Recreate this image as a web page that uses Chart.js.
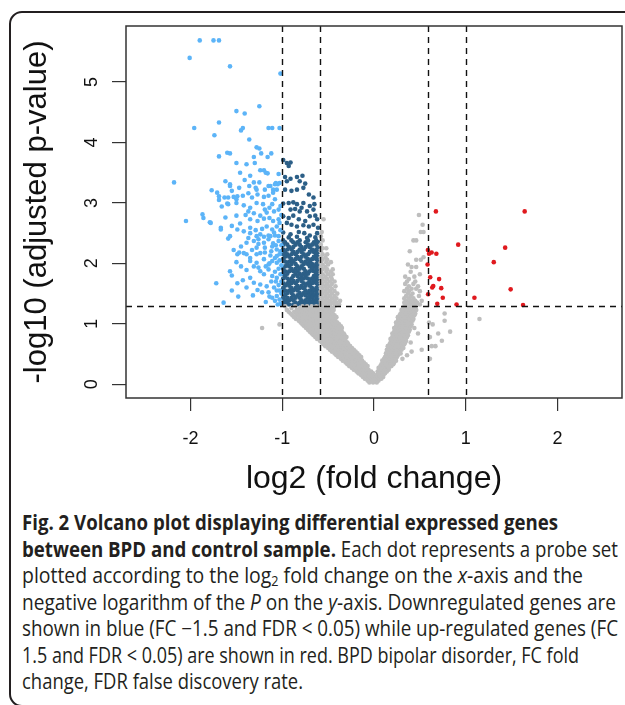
<!DOCTYPE html>
<html>
<head>
<meta charset="utf-8">
<script src="https://cdn.jsdelivr.net/npm/chart.js@4.4.0/dist/chart.umd.min.js"></script>
<style>
  html, body { margin: 0; padding: 0; background: #fff; }
  body { width: 625px; height: 705px; overflow: hidden; position: relative; }
  #frame { position: absolute; left: 9px; top: 11px; width: 660px; height: 696px; box-sizing: border-box;
           border: 2px solid #231f20; border-radius: 13px; }
  #plot { position: absolute; left: 0; top: 0; }
  #caption { position: absolute; left: 22px; top: 509px; font-family: "Open Sans", sans-serif; font-size: 21px;
             line-height: 26.5px; color: #231f20; white-space: nowrap; }
  #caption .ln { display: block; width: max-content; transform-origin: 0 0; }
  #caption b { font-weight: 700; }
  #caption sub { font-size: 0.65em; vertical-align: -0.25em; line-height: 0; }
</style>
</head>
<body>
<div id="frame"></div>
<canvas id="plot" width="625" height="500"></canvas>
<div id="caption">
  <span class="ln" data-w="536"><b>Fig. 2 Volcano plot displaying differential expressed genes</b></span>
  <span class="ln" data-w="596"><b>between BPD and control sample.</b> Each dot represents a probe set</span>
  <span class="ln" data-w="561">plotted according to the log<sub>2</sub> fold change on the <i>x</i>-axis and the</span>
  <span class="ln" data-w="594">negative logarithm of the <i>P</i> on the <i>y</i>-axis. Downregulated genes are</span>
  <span class="ln" data-w="596">shown in blue (FC −1.5 and FDR &lt; 0.05) while up-regulated genes (FC</span>
  <span class="ln" data-w="557">1.5 and FDR &lt; 0.05) are shown in red. BPD bipolar disorder, FC fold</span>
  <span class="ln" data-w="281">change, FDR false discovery rate.</span>
</div>
<script>
/** Data **/

// axis ticks and the cut-offs drawn as dashed lines
const xTicks = [-2, -1, 0, 1, 2];
const yTicks = [0, 1, 2, 3, 4, 5];
const fcCutoffs = [-1, -0.585, 0.585, 1];
const pCutoff = 1.301;

// not significant probe sets, the "V": [y, [x, x, ...]] rows
const grayRows = [
  [0.03, [-0.05, -0.01, 0.03]],
  [0.06, [-0.07, -0.03, 0.01, 0.05]],
  [0.09, [-0.10, -0.06, -0.02, 0.02, 0.06, 0.08]],
  [0.12, [-0.12, -0.08, -0.04, 0.00, 0.04, 0.08, 0.10]],
  [0.15, [-0.14, -0.10, -0.06, -0.02, 0.03, 0.06, 0.10]],
  [0.18, [-0.17, -0.13, -0.09, -0.05, -0.01, 0.05, 0.09, 0.12]],
  [0.21, [-0.19, -0.15, -0.11, -0.07, -0.03, 0.04, 0.07, 0.11, 0.14]],
  [0.24, [-0.22, -0.18, -0.14, -0.10, -0.06, 0.06, 0.09, 0.13, 0.16]],
  [0.27, [-0.24, -0.20, -0.16, -0.12, -0.08, 0.05, 0.08, 0.12, 0.16]],
  [0.30, [-0.27, -0.23, -0.19, -0.15, -0.11, -0.07, 0.07, 0.11, 0.15, 0.19]],
  [0.33, [-0.29, -0.25, -0.21, -0.17, -0.13, -0.09, 0.08, 0.13, 0.17, 0.21]],
  [0.36, [-0.31, -0.27, -0.23, -0.19, -0.15, -0.11, 0.10, 0.14, 0.18, 0.22]],
  [0.39, [-0.34, -0.30, -0.26, -0.22, -0.18, -0.13, 0.09, 0.12, 0.16, 0.20, 0.24]],
  [0.42, [-0.36, -0.32, -0.28, -0.24, -0.20, -0.16, 0.11, 0.15, 0.19, 0.23, 0.31, 0.61]],
  [0.45, [-0.39, -0.35, -0.30, -0.26, -0.22, -0.18, -0.14, 0.12, 0.16, 0.21, 0.25]],
  [0.48, [-0.41, -0.37, -0.33, -0.28, -0.24, -0.20, -0.16, 0.14, 0.18, 0.22, 0.26, 0.36]],
  [0.51, [-0.43, -0.39, -0.35, -0.31, -0.26, -0.22, -0.18, 0.13, 0.17, 0.21, 0.25, 0.29]],
  [0.54, [-0.46, -0.41, -0.37, -0.33, -0.28, -0.24, -0.20, 0.15, 0.19, 0.23, 0.27, 0.41]],
  [0.57, [-0.48, -0.44, -0.39, -0.35, -0.31, -0.26, -0.22, 0.14, 0.18, 0.22, 0.26, 0.30, 0.52]],
  [0.60, [-0.50, -0.46, -0.42, -0.37, -0.33, -0.28, -0.24, 0.16, 0.20, 0.24, 0.28, 0.32]],
  [0.63, [-0.53, -0.48, -0.44, -0.39, -0.35, -0.30, -0.26, 0.15, 0.19, 0.23, 0.27, 0.31, 0.63, 0.67]],
  [0.66, [-0.55, -0.50, -0.46, -0.41, -0.37, -0.32, -0.28, 0.17, 0.21, 0.25, 0.29, 0.33]],
  [0.69, [-0.57, -0.52, -0.48, -0.43, -0.39, -0.34, -0.29, 0.18, 0.22, 0.26, 0.30, 0.34, 0.40]],
  [0.72, [-0.59, -0.54, -0.50, -0.45, -0.40, -0.36, -0.31, 0.19, 0.23, 0.27, 0.31, 0.35, 0.74]],
  [0.75, [-0.62, -0.57, -0.52, -0.47, -0.42, -0.38, -0.33, 0.18, 0.22, 0.26, 0.30, 0.34]],
  [0.78, [-0.64, -0.59, -0.54, -0.49, -0.44, -0.39, -0.35, -0.30, 0.20, 0.24, 0.28, 0.32, 0.36, 0.61]],
  [0.81, [-0.66, -0.61, -0.56, -0.51, -0.46, -0.41, -0.36, -0.32, 0.21, 0.25, 0.29, 0.33, 0.37]],
  [0.84, [-0.68, -0.63, -0.58, -0.53, -0.48, -0.43, -0.38, -0.33, 0.20, 0.24, 0.28, 0.32, 0.36, 0.48, 0.70]],
  [0.87, [-0.70, -0.65, -0.60, -0.55, -0.50, -0.45, -0.40, -0.35, 0.22, 0.26, 0.30, 0.34, 0.38, 0.83]],
  [0.90, [-0.72, -0.67, -0.62, -0.57, -0.52, -0.47, -0.42, -0.37, 0.23, 0.27, 0.31, 0.35, 0.39]],
  [0.93, [-1.22, -0.74, -0.69, -0.64, -0.59, -0.54, -0.49, -0.44, -0.39, -0.35, 0.22, 0.26, 0.30, 0.34, 0.38, 0.44]],
  [0.96, [-0.76, -0.71, -0.66, -0.61, -0.56, -0.51, -0.46, -0.41, -0.36, 0.24, 0.28, 0.32, 0.36, 0.40]],
  [0.99, [-1.03, -0.78, -0.73, -0.68, -0.63, -0.58, -0.53, -0.48, -0.43, -0.38, 0.25, 0.29, 0.33, 0.37, 0.41, 0.64]],
  [1.02, [-0.80, -0.75, -0.70, -0.65, -0.60, -0.55, -0.50, -0.45, -0.40, 0.24, 0.28, 0.32, 0.36, 0.40, 0.60]],
  [1.05, [-0.82, -0.77, -0.72, -0.67, -0.62, -0.57, -0.52, -0.47, -0.42, 0.26, 0.30, 0.34, 0.38, 0.42, 0.77]],
  [1.08, [-0.85, -0.79, -0.74, -0.69, -0.64, -0.59, -0.54, -0.49, -0.44, 0.27, 0.31, 0.35, 0.39, 0.43, 1.15]],
  [1.11, [-0.87, -0.81, -0.76, -0.71, -0.66, -0.61, -0.56, -0.51, -0.46, -0.41, 0.26, 0.30, 0.34, 0.38, 0.42]],
  [1.14, [-0.89, -0.83, -0.78, -0.73, -0.68, -0.63, -0.58, -0.53, -0.48, -0.43, 0.28, 0.32, 0.36, 0.40, 0.44]],
  [1.17, [-0.91, -0.85, -0.80, -0.75, -0.70, -0.65, -0.60, -0.55, -0.50, -0.45, 0.29, 0.33, 0.37, 0.41, 0.45, 0.77]],
  [1.20, [-0.93, -0.87, -0.82, -0.77, -0.72, -0.67, -0.62, -0.57, -0.52, -0.47, 0.31, 0.35, 0.39, 0.43]],
  [1.23, [-0.95, -0.84, -0.79, -0.74, -0.69, -0.64, -0.59, -0.54, -0.49, -0.44, 0.30, 0.34, 0.38, 0.42, 0.46]],
  [1.26, [-0.90, -0.81, -0.76, -0.71, -0.66, -0.61, -0.56, -0.51, -0.46, 0.32, 0.36, 0.40, 0.44]],
  [1.29, [-0.97, -0.86, -0.78, -0.73, -0.68, -0.63, -0.58, -0.53, -0.48, -0.43, 0.33, 0.37, 0.41, 0.45]],
  [1.32, [-0.58, -0.53, -0.48, -0.43, -0.38, 0.35, 0.39, 0.44, 0.50]],
  [1.35, [-0.56, -0.51, -0.46, -0.41, 0.33, 0.37, 0.42, 0.47]],
  [1.38, [-0.58, -0.53, -0.48, -0.43, -0.37, 0.35, 0.40, 0.45, 0.52]],
  [1.42, [-0.56, -0.51, -0.46, -0.41, 0.33, 0.38, 0.43]],
  [1.46, [-0.58, -0.53, -0.48, -0.43, 0.35, 0.40, 0.49]],
  [1.50, [-0.56, -0.51, -0.46, -0.40, 0.37, 0.42]],
  [1.54, [-0.58, -0.53, -0.48, -0.43, 0.33, 0.38, 0.50]],
  [1.58, [-0.56, -0.51, -0.46, 0.36, 0.41, 0.46]],
  [1.62, [-0.58, -0.53, -0.48, -0.42, 0.38, 0.48]],
  [1.66, [-0.56, -0.51, -0.46, 0.34, 0.43]],
  [1.70, [-0.58, -0.53, -0.48, -0.43, 0.36, 0.45]],
  [1.74, [-0.56, -0.51, -0.46, 0.38]],
  [1.78, [-0.58, -0.53, -0.47, 0.34, 0.44]],
  [1.82, [-0.56, -0.50, -0.45, 0.50]],
  [1.86, [-0.58, -0.52, -0.47, 0.40]],
  [1.90, [-0.56, -0.51, -0.45]],
  [1.94, [-0.58, -0.53, 0.41, 0.46]],
  [1.98, [-0.56, -0.50, 0.37]],
  [2.02, [-0.58, -0.52, -0.47]],
  [2.06, [-0.56, -0.51, 0.46, 0.51]],
  [2.10, [-0.58, -0.53, 0.54]],
  [2.15, [-0.56, -0.51]],
  [2.20, [-0.58, 0.39]],
  [2.25, [-0.56, -0.52]],
  [2.31, [-0.58]],
  [2.38, [-0.56, 0.43, 0.46]],
  [2.45, [-0.58]],
  [2.52, [-0.57, 0.51, 0.54]],
  [2.64, [0.53]],
  [2.73, [-0.55]],
  [2.80, [0.49]]
];

// down-regulated, |log2 FC| > 1: [x, y]
const lightBluePts = [
  [-1.90, 5.69], [-1.75, 5.69], [-1.69, 5.69], [-2.01, 5.40], [-1.57, 5.26], [-1.02, 5.14],
  [-1.50, 4.52], [-1.41, 4.48], [-1.25, 4.60], [-1.96, 4.24], [-1.69, 4.33], [-1.74, 4.12],
  [-1.45, 4.20], [-1.43, 4.24], [-1.15, 4.24], [-1.11, 4.24], [-1.03, 4.24],
  [-1.28, 3.92], [-1.60, 3.83], [-1.57, 3.82], [-1.69, 3.77], [-1.23, 3.82], [-1.12, 3.82],
  [-1.31, 3.76], [-1.16, 3.76], [-1.50, 3.66], [-1.39, 3.64], [-1.30, 3.66],
  [-1.24, 3.54], [-1.20, 3.54], [-1.18, 3.50], [-1.16, 3.49], [-1.04, 3.48],
  [-2.18, 3.34], [-1.62, 3.36], [-1.57, 3.31], [-1.57, 3.28], [-1.41, 3.38], [-1.31, 3.34],
  [-1.25, 3.34], [-1.36, 3.28], [-1.29, 3.25], [-1.28, 3.22], [-1.19, 3.22], [-1.13, 3.28],
  [-1.10, 3.22], [-1.07, 3.33], [-1.05, 3.31], [-1.03, 3.33], [-1.15, 3.28], [-1.08, 3.31],
  [-1.77, 3.21], [-1.71, 3.17], [-1.69, 3.11], [-1.69, 3.05], [-1.59, 3.09], [-1.53, 3.10],
  [-1.50, 3.06], [-1.43, 3.12], [-1.63, 3.09], [-1.49, 3.11], [-1.37, 3.16], [-1.33, 3.09],
  [-1.27, 3.14], [-1.20, 3.10], [-1.15, 3.12], [-1.10, 3.17], [-1.06, 3.22], [-1.08, 3.06],
  [-1.60, 2.99], [-1.66, 2.94], [-1.59, 2.98], [-1.50, 3.00], [-1.42, 2.96], [-1.35, 2.92],
  [-1.37, 2.86], [-1.28, 3.00], [-1.21, 2.98], [-1.19, 2.89], [-1.14, 2.92], [-1.11, 2.98],
  [-1.09, 2.86], [-1.04, 2.89], [-1.31, 2.83], [-1.24, 2.79], [-1.17, 2.84], [-1.02, 2.95],
  [-1.87, 2.81], [-1.86, 2.75], [-2.05, 2.70], [-1.79, 2.68], [-1.78, 2.67], [-1.67, 2.59],
  [-1.57, 2.45], [-1.49, 2.56], [-1.50, 2.79], [-1.35, 2.73], [-1.27, 2.70], [-1.20, 2.74],
  [-1.14, 2.75], [-1.10, 2.70], [-1.04, 2.73], [-1.35, 2.59], [-1.29, 2.55], [-1.22, 2.57],
  [-1.17, 2.61], [-1.11, 2.56], [-1.06, 2.61], [-1.28, 2.45], [-1.20, 2.44], [-1.13, 2.45],
  [-1.08, 2.46], [-1.01, 2.80], [-1.03, 2.67], [-1.02, 2.55], [-1.55, 2.62], [-1.46, 2.66],
  [-1.40, 2.80], [-1.62, 2.76], [-1.55, 3.20], [-1.47, 3.25], [-1.35, 3.45], [-1.46, 3.50],
  [-1.25, 3.90], [-1.36, 4.05],
  [-1.67, 2.56], [-1.59, 2.41], [-1.42, 2.53], [-1.35, 2.50], [-1.24, 2.48], [-1.15, 2.46],
  [-1.09, 2.51], [-1.04, 2.45], [-1.37, 2.42], [-1.39, 2.34], [-1.31, 2.37], [-1.26, 2.40],
  [-1.20, 2.34], [-1.15, 2.40], [-1.10, 2.33], [-1.04, 2.37], [-1.28, 2.26], [-1.19, 2.26],
  [-1.11, 2.28], [-1.06, 2.23], [-1.01, 2.30], [-1.26, 2.32], [-1.33, 2.22], [-1.45, 2.28],
  [-1.53, 2.22], [-1.07, 2.30],
  [-1.47, 2.18], [-1.49, 2.15], [-1.42, 2.17], [-1.39, 2.15], [-1.35, 2.09], [-1.28, 2.15],
  [-1.24, 2.17], [-1.19, 2.18], [-1.13, 2.13], [-1.08, 2.09], [-1.03, 2.15], [-1.02, 2.20],
  [-1.12, 2.20], [-1.06, 2.12],
  [-1.50, 2.02], [-1.35, 2.04], [-1.28, 2.01], [-1.15, 1.98], [-1.11, 2.04], [-1.06, 2.01],
  [-1.20, 2.07], [-1.03, 2.05], [-1.01, 1.97], [-1.14, 2.00], [-1.18, 1.95], [-1.26, 1.93],
  [-1.31, 1.95], [-1.45, 1.95],
  [-1.57, 1.87], [-1.55, 1.80], [-1.39, 1.89], [-1.24, 1.87], [-1.20, 1.82], [-1.15, 1.90],
  [-1.08, 1.86], [-1.04, 1.91], [-1.11, 1.79], [-1.06, 1.76], [-1.02, 1.82], [-1.43, 1.72],
  [-1.72, 1.67], [-1.49, 1.67], [-1.35, 1.76], [-1.31, 1.68], [-1.24, 1.65], [-1.17, 1.62],
  [-1.09, 1.60], [-1.04, 1.64], [-1.39, 1.60], [-1.01, 1.70], [-1.07, 1.70], [-1.12, 1.70],
  [-1.32, 1.47], [-1.15, 1.52], [-1.11, 1.43], [-1.06, 1.46], [-1.08, 1.38], [-1.03, 1.40],
  [-1.64, 1.35], [-1.03, 1.55], [-1.01, 1.50], [-1.02, 1.33], [-1.06, 1.55], [-1.22, 1.52],
  [-1.27, 1.56], [-1.14, 1.45], [-1.18, 1.36], [-1.05, 1.32], [-1.48, 1.45], [-1.55, 1.55]
];

// down-regulated, 0.585 < |log2 FC| <= 1: sparse top part as [x, y] ...
const darkBluePts = [
  [-0.99, 3.71], [-0.95, 3.66], [-0.91, 3.67], [-0.93, 3.61],
  [-0.97, 3.43], [-0.91, 3.40], [-0.95, 3.36], [-0.84, 3.43], [-0.78, 3.45], [-0.81, 3.36], [-0.75, 3.32],
  [-0.97, 3.22], [-0.90, 3.20], [-0.84, 3.22], [-0.77, 3.25], [-0.71, 3.14], [-0.66, 3.09],
  [-0.99, 2.99], [-0.93, 3.00], [-0.88, 3.01], [-0.84, 2.98], [-0.77, 3.00], [-0.79, 2.92],
  [-0.70, 2.95], [-0.65, 2.98], [-0.91, 2.89], [-0.86, 2.90], [-0.81, 2.86], [-0.73, 2.86], [-0.66, 2.89],
  [-0.99, 2.78], [-0.93, 2.75], [-0.88, 2.79], [-0.82, 2.73], [-0.75, 2.70], [-0.70, 2.78],
  [-0.64, 2.79], [-0.62, 2.73], [-0.95, 2.67], [-0.90, 2.64], [-0.84, 2.61], [-0.77, 2.63],
  [-0.71, 2.61], [-0.66, 2.64], [-0.61, 2.59],
  [-0.99, 2.51], [-0.91, 2.48], [-0.82, 2.52], [-0.76, 2.50], [-0.70, 2.46], [-0.62, 2.50],
  [-0.93, 2.43], [-0.84, 2.44], [-0.73, 2.42], [-0.64, 2.43]
];
// ... and the dense block just above the FDR line as [y, [x, ...]] rows
const darkBlueRows = [
  [2.38, [-0.99, -0.90, -0.81, -0.72, -0.63]],
  [2.35, [-0.97, -0.88, -0.835, -0.745, -0.655, -0.61]],
  [2.31, [-0.99, -0.945, -0.855, -0.81, -0.72, -0.675, -0.63]],
  [2.27, [-0.925, -0.88, -0.79, -0.745, -0.70, -0.61]],
  [2.23, [-0.99, -0.945, -0.90, -0.81, -0.765, -0.675, -0.63]],
  [2.19, [-0.97, -0.88, -0.835, -0.79, -0.70, -0.655, -0.61]],
  [2.15, [-0.99, -0.945, -0.90, -0.855, -0.765, -0.72, -0.63]],
  [2.11, [-0.97, -0.925, -0.835, -0.79, -0.745, -0.655, -0.61]],
  [2.07, [-0.99, -0.90, -0.855, -0.81, -0.72, -0.675, -0.63]],
  [2.03, [-0.97, -0.925, -0.88, -0.79, -0.745, -0.70, -0.61]],
  [1.99, [-0.945, -0.90, -0.855, -0.765, -0.72, -0.675, -0.63]],
  [1.95, [-0.97, -0.925, -0.835, -0.79, -0.70, -0.655, -0.61]],
  [1.91, [-0.99, -0.90, -0.855, -0.81, -0.765, -0.675, -0.63]],
  [1.87, [-0.97, -0.925, -0.88, -0.835, -0.745, -0.70, -0.655, -0.61]],
  [1.83, [-0.99, -0.945, -0.855, -0.81, -0.765, -0.72, -0.63]],
  [1.79, [-0.97, -0.88, -0.835, -0.79, -0.745, -0.655, -0.61]],
  [1.75, [-0.99, -0.945, -0.90, -0.81, -0.765, -0.72, -0.675, -0.63]],
  [1.71, [-0.925, -0.88, -0.835, -0.79, -0.70, -0.655, -0.61]],
  [1.67, [-0.99, -0.945, -0.90, -0.855, -0.765, -0.72, -0.675, -0.63]],
  [1.63, [-0.97, -0.925, -0.835, -0.79, -0.745, -0.70, -0.61]],
  [1.59, [-0.99, -0.90, -0.855, -0.81, -0.765, -0.675, -0.63]],
  [1.55, [-0.97, -0.925, -0.88, -0.835, -0.745, -0.70, -0.655, -0.61]],
  [1.51, [-0.99, -0.945, -0.90, -0.81, -0.765, -0.72, -0.675, -0.63]],
  [1.47, [-0.97, -0.88, -0.835, -0.79, -0.745, -0.70, -0.655, -0.61]],
  [1.43, [-0.99, -0.945, -0.90, -0.855, -0.81, -0.72, -0.675, -0.63]],
  [1.39, [-0.97, -0.925, -0.88, -0.79, -0.745, -0.70, -0.655, -0.61]],
  [1.35, [-0.99, -0.945, -0.855, -0.81, -0.765, -0.72, -0.675, -0.63]],
  [1.32, [-0.97, -0.925, -0.88, -0.835, -0.79, -0.745, -0.70, -0.655, -0.61]]
];

// up-regulated, log2 FC > 0.585
const redPts = [
  [0.675, 2.86], [1.643, 2.86], [0.918, 2.31], [1.43, 2.26], [0.588, 2.22], [0.60, 2.16],
  [0.628, 2.18], [0.68, 2.16], [1.306, 2.02], [0.584, 1.98], [0.613, 1.77], [0.71, 1.74],
  [0.646, 1.625], [0.635, 1.60], [0.733, 1.59], [1.49, 1.57], [0.59, 1.49], [0.75, 1.43],
  [1.095, 1.43], [0.69, 1.33], [0.90, 1.32], [1.625, 1.31]
];

/** Colours **/
const grayColor = "#BEBEBE";
const lightBlueColor = "#5CB4F8";
const darkBlueColor = "#2C5F87";
const redColor = "#E0191E";

/** Helpers **/
const fromRows = rows => rows.flatMap(r => r[1].map(x => ({x: x, y: r[0]})));
const fromPairs = pts => pts.map(p => ({x: p[0], y: p[1]}));

function pointSet(data, color) {
    return {
        data: data,
        backgroundColor: color,
        borderWidth: 0,
        pointRadius: 2.3,
        pointHoverRadius: 2.3
    };
}

// dashed cut-offs, plot box and the rotated y tick labels (R style)
const overlay = {
    id: "overlay",
    afterDatasetsDraw(chart) {
        const ctx = chart.ctx;
        const a = chart.chartArea;
        const xs = chart.scales.x, ys = chart.scales.y;
        ctx.save();
        ctx.strokeStyle = "#111";
        ctx.lineWidth = 1.4;
        ctx.setLineDash([6, 5]);
        fcCutoffs.forEach(function(v) {
            const px = Math.round(xs.getPixelForValue(v)) + 0.5;
            ctx.beginPath(); ctx.moveTo(px, a.top); ctx.lineTo(px, a.bottom); ctx.stroke();
        });
        const py = Math.round(ys.getPixelForValue(pCutoff)) + 0.5;
        ctx.beginPath(); ctx.moveTo(a.left, py); ctx.lineTo(a.right, py); ctx.stroke();
        ctx.setLineDash([]);

        ctx.strokeStyle = "#333";
        ctx.lineWidth = 1.5;
        ctx.strokeRect(a.left, a.top, a.right - a.left, a.bottom - a.top);

        ctx.fillStyle = "#111";
        ctx.font = '18px "Liberation Sans", Arial, sans-serif';
        ctx.textAlign = "center";
        ctx.textBaseline = "middle";
        yTicks.forEach(function(v) {
            ctx.save();
            ctx.translate(92, ys.getPixelForValue(v));
            ctx.rotate(-Math.PI / 2);
            ctx.fillText(String(v), 0, 0);
            ctx.restore();
        });
        ctx.restore();
    }
};

const axisFont = {family: '"Liberation Sans", Arial, sans-serif', size: 18};
const titleFont = {family: '"Liberation Sans", Arial, sans-serif', size: 32};

new Chart(document.getElementById("plot"), {
    type: "scatter",
    data: {
        datasets: [
            pointSet(fromRows(grayRows), grayColor),
            pointSet(fromPairs(lightBluePts), lightBlueColor),
            pointSet(fromPairs(darkBluePts).concat(fromRows(darkBlueRows)), darkBlueColor),
            pointSet(fromPairs(redPts), redColor)
        ]
    },
    options: {
        responsive: false,
        animation: false,
        events: [],
        layout: {padding: {left: 0, top: 26, right: 3, bottom: 0}},
        plugins: {legend: {display: false}, tooltip: {enabled: false}},
        scales: {
            x: {
                type: "linear",
                min: -2.704,
                max: 2.704,
                afterFit: function(scale) { scale.height = 102; },
                afterBuildTicks: function(scale) { scale.ticks = xTicks.map(v => ({value: v})); },
                ticks: {font: axisFont, color: "#111", padding: 17, maxRotation: 0,
                        callback: v => String(v)},
                grid: {display: true, drawOnChartArea: false, drawTicks: true, tickLength: 13,
                       color: "#333", lineWidth: 1.2},
                border: {display: false},
                title: {display: true, text: "log2 (fold change)", font: titleFont, color: "#111",
                        padding: {top: 0, bottom: 2}}
            },
            y: {
                type: "linear",
                min: -0.228,
                max: 5.928,
                afterFit: function(scale) { scale.width = 126; },
                afterBuildTicks: function(scale) { scale.ticks = yTicks.map(v => ({value: v})); },
                ticks: {font: axisFont, color: "rgba(0,0,0,0)"},
                grid: {display: true, drawOnChartArea: false, drawTicks: true, tickLength: 14,
                       color: "#333", lineWidth: 1.2},
                border: {display: false},
                title: {display: true, text: "-log10 (adjusted p-value)", font: {family: titleFont.family, size: 31},
                        color: "#111", padding: {top: 19, bottom: 0}}
            }
        }
    },
    plugins: [overlay]
});

// squeeze each caption line to the width it has in the printed figure
document.querySelectorAll("#caption .ln").forEach(function(el) {
    const natural = el.getBoundingClientRect().width;
    el.style.transform = "scaleX(" + (Number(el.dataset.w) / natural) + ")";
});
</script>
</body>
</html>
